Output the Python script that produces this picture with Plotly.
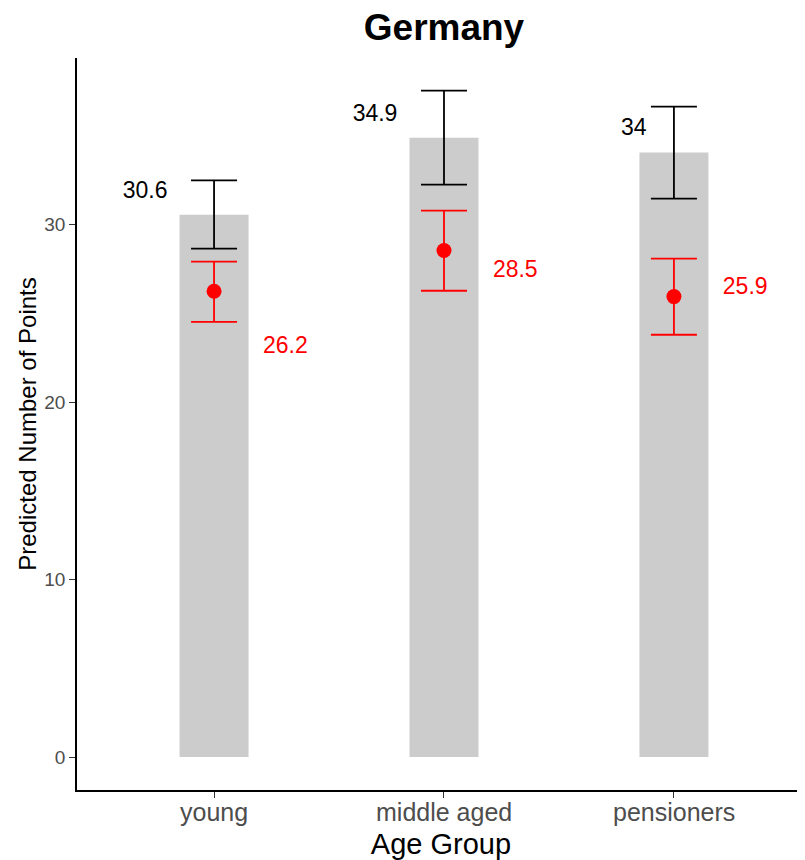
import plotly.graph_objects as go

groups = ["young", "middle aged", "pensioners"]
bar_values = [30.57, 34.9, 34.07]
bar_low = [28.65, 32.26, 31.47]
bar_high = [32.5, 37.56, 36.66]
bar_labels = ["30.6", "34.9", "34"]
bar_label_y = [31.85, 36.2, 35.4]
bar_label_dx = [-0.3, -0.3, -0.175]

pt_values = [26.25, 28.55, 25.95]
pt_low = [24.53, 26.28, 23.8]
pt_high = [27.92, 30.8, 28.09]
pt_labels = ["26.2", "28.5", "25.9"]
pt_label_y = [23.1, 27.4, 26.45]
pt_label_dx = [0.31, 0.31, 0.31]

xs = list(range(len(groups)))
FONT = "Liberation Sans, Arial, sans-serif"

W, H = 797, 852

fig = go.Figure()
fig.add_trace(go.Bar(x=xs, y=bar_values, width=0.3, marker=dict(color="#CCCCCC", line=dict(width=0)),
                     showlegend=False, hoverinfo="skip"))
fig.add_trace(go.Scatter(x=xs, y=bar_values, mode="markers", marker=dict(size=0.1, color="rgba(0,0,0,0)"),
                         error_y=dict(type="data", symmetric=False,
                                      array=[h - v for h, v in zip(bar_high, bar_values)],
                                      arrayminus=[v - l for l, v in zip(bar_low, bar_values)],
                                      color="black", thickness=1.8, width=23),
                         showlegend=False))
fig.add_trace(go.Scatter(x=xs, y=pt_values, mode="markers", marker=dict(size=15, color="#FF0000"),
                         error_y=dict(type="data", symmetric=False,
                                      array=[h - v for h, v in zip(pt_high, pt_values)],
                                      arrayminus=[v - l for l, v in zip(pt_low, pt_values)],
                                      color="#FF0000", thickness=1.8, width=23),
                         showlegend=False))

fig.add_trace(go.Scatter(x=[x + d for x, d in zip(xs, bar_label_dx)], y=bar_label_y, mode="text", text=bar_labels,
                         textfont=dict(family=FONT, size=23, color="black"), showlegend=False))
fig.add_trace(go.Scatter(x=[x + d for x, d in zip(xs, pt_label_dx)], y=pt_label_y, mode="text", text=pt_labels,
                         textfont=dict(family=FONT, size=23, color="#FF0000"), showlegend=False))

for x, g in zip(xs, groups):
    fig.add_annotation(x=x, xref="x", y=0, yref="paper", text=g, showarrow=False,
                       yanchor="middle", yshift=-22,
                       font=dict(family=FONT, size=25, color="#4D4D4D"))

fig.update_layout(
    width=W, height=H,
    margin=dict(l=69, r=0, t=50, b=70),
    paper_bgcolor="white", plot_bgcolor="white",
    title=dict(text="<b>Germany</b>", x=436 / W, xanchor="center", y=1 - 19 / H, yanchor="middle",
               font=dict(family=FONT, size=37, color="black")),
    font=dict(family=FONT),
    xaxis=dict(range=[-0.596, 2.57], tickvals=xs, showticklabels=False, showgrid=False, zeroline=False,
               showline=True, linecolor="black", linewidth=1.8, ticks="outside", ticklen=6,
               tickcolor="#333333",
               title=dict(text="Age Group", font=dict(family=FONT, size=29, color="black"), standoff=38)),
    yaxis=dict(range=[-1.86, 39.4], tickvals=[0, 10, 20, 30], showgrid=False, zeroline=False,
               showline=True, linecolor="black", linewidth=1.8, ticks="outside", ticklen=6,
               tickcolor="#333333", tickfont=dict(family=FONT, size=19, color="#4D4D4D"),
               title=dict(text="Predicted Number of Points", font=dict(family=FONT, size=24, color="black"), standoff=1)),
)

fig.write_html("out.html")
